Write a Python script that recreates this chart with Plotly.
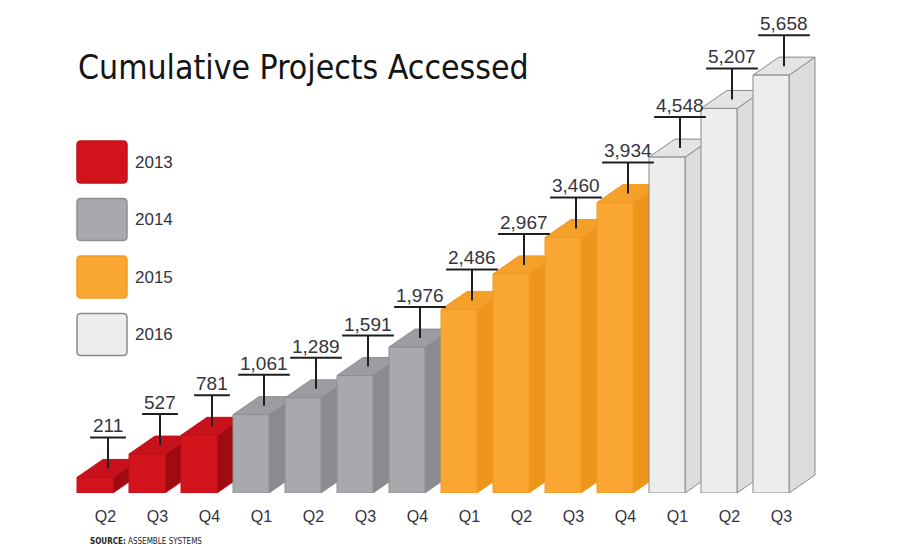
import plotly.graph_objects as go

# ---------------- data ----------------
quarters = ["Q2", "Q3", "Q4", "Q1", "Q2", "Q3", "Q4", "Q1", "Q2", "Q3", "Q4", "Q1", "Q2", "Q3"]
years = [2013, 2013, 2013, 2014, 2014, 2014, 2014, 2015, 2015, 2015, 2015, 2016, 2016, 2016]
values = [211, 527, 781, 1061, 1289, 1591, 1976, 2486, 2967, 3460, 3934, 4548, 5207, 5658]
legend_years = [2013, 2014, 2015, 2016]
title_text = "Cumulative Projects Accessed"
source_text = "<b>SOURCE:</b> ASSEMBLE SYSTEMS"

# ---------------- style ----------------
W, H = 900, 550
ML, MR, MT, MB = 43, 51, 10, 57
XMIN, XMAX = -1.0, 14.5
YMAX = 6540
PX_X = (W - ML - MR) / (XMAX - XMIN)
PX_Y = (H - MT - MB) / YMAX
DX_PX, DY_PX = 26, 18
DXU, DYU = DX_PX / PX_X, DY_PX / PX_Y
BAR_W = 36 / PX_X
STEM = 31

palette = {
    2013: dict(front="#d3141d", top="#c8121b", side="#a00b12", line="#c0101a"),
    2014: dict(front="#a8a9ad", top="#9c9da1", side="#8a8b8f", line="#8e8f93"),
    2015: dict(front="#f9a632", top="#f5a02b", side="#ee961c", line="#f39a22"),
    2016: dict(front="#ededed", top="#e4e4e4", side="#dcdcdc", line="#8a8a8a"),
}
FONT = "Liberation Sans, Arial, sans-serif"
NARROW = "DejaVu Sans Condensed, sans-serif"
TXT = "#34343f"

xs = list(range(len(values)))
fig = go.Figure()

# front faces as bars, one trace per year
for yr in legend_years:
    idx = [i for i in xs if years[i] == yr]
    fig.add_trace(go.Bar(
        x=[xs[i] for i in idx], y=[values[i] for i in idx],
        width=BAR_W, name=str(yr), showlegend=False,
        marker=dict(color=palette[yr]["front"],
                    line=dict(color=palette[yr]["line"], width=1)),
        hoverinfo="x+y",
    ))

shapes = []
annotations = []
# 3D side and top faces (drawn below traces so the next bar's front occludes them)
for i in xs:
    v = values[i]
    c = palette[years[i]]
    xl, xr = xs[i] - BAR_W / 2, xs[i] + BAR_W / 2
    side = (f"M {xr},0 L {xr + DXU},{DYU} L {xr + DXU},{v + DYU} L {xr},{v} Z")
    top = (f"M {xl},{v} L {xl + DXU},{v + DYU} L {xr + DXU},{v + DYU} L {xr},{v} Z")
    shapes.append(dict(type="path", path=side, xref="x", yref="y", layer="below",
                       fillcolor=c["side"], line=dict(color=c["line"], width=1)))
    shapes.append(dict(type="path", path=top, xref="x", yref="y", layer="below",
                       fillcolor=c["top"], line=dict(color=c["line"], width=1)))
    # value label: stem + underline + text
    txt = f"{v:,}"
    half = (sum(5.3 if ch == "," else 10.6 for ch in txt)) / 2 + 2
    shapes.append(dict(type="line", xref="x", yref="y", xsizemode="pixel", ysizemode="pixel",
                       xanchor=xs[i], yanchor=v, x0=DX_PX / 2, x1=DX_PX / 2,
                       y0=DY_PX / 2, y1=DY_PX / 2 + STEM, layer="above",
                       line=dict(color="#1e1e1e", width=2)))
    shapes.append(dict(type="line", xref="x", yref="y", xsizemode="pixel", ysizemode="pixel",
                       xanchor=xs[i], yanchor=v, x0=DX_PX / 2 - half, x1=DX_PX / 2 + half,
                       y0=DY_PX / 2 + STEM, y1=DY_PX / 2 + STEM, layer="above",
                       line=dict(color="#1e1e1e", width=2)))
    annotations.append(dict(x=xs[i], y=v, xref="x", yref="y", text=txt, showarrow=False,
                            xshift=DX_PX / 2, yshift=DY_PX / 2 + STEM - 1, yanchor="bottom",
                            xanchor="center", font=dict(family=FONT, size=19, color=TXT)))


def rrect(x0, y0, x1, y1, r):
    return (f"M {x0 + r},{y0} L {x1 - r},{y0} Q {x1},{y0} {x1},{y0 - r} "
            f"L {x1},{y1 + r} Q {x1},{y1} {x1 - r},{y1} L {x0 + r},{y1} "
            f"Q {x0},{y1} {x0},{y1 + r} L {x0},{y0 - r} Q {x0},{y0} {x0 + r},{y0} Z")


# custom legend (pixel offsets from plot-area top-left)
for k, yr in enumerate(legend_years):
    top_px = 141 + k * 57.5 - MT
    c = palette[yr]
    shapes.append(dict(type="path", xref="paper", yref="paper", xsizemode="pixel",
                       ysizemode="pixel", xanchor=0, yanchor=1,
                       path=rrect(77 - ML, -top_px, 127 - ML, -(top_px + 42), 4),
                       fillcolor=c["front"], line=dict(color=c["line"], width=1.5)))
    annotations.append(dict(x=0, y=1, xref="paper", yref="paper", xanchor="left",
                            yanchor="middle", xshift=133 - ML, yshift=-(top_px + 21),
                            text=str(yr), showarrow=False,
                            font=dict(family=FONT, size=17, color=TXT)))

annotations.append(dict(x=0, y=1, xref="paper", yref="paper", xanchor="left", yanchor="middle",
                        xshift=76 - ML, yshift=-(67 - MT), text=title_text, showarrow=False,
                        font=dict(family=NARROW, size=33.5, color="#141414")))
annotations.append(dict(x=0, y=0, xref="paper", yref="paper", xanchor="left", yanchor="middle",
                        xshift=88 - ML, yshift=-48, text=source_text, showarrow=False,
                        font=dict(family=NARROW, size=8, color="#222222")))

fig.update_layout(
    width=W, height=H, margin=dict(l=ML, r=MR, t=MT, b=MB),
    paper_bgcolor="white", plot_bgcolor="white",
    barmode="overlay", showlegend=False,
    shapes=shapes, annotations=annotations,
    xaxis=dict(range=[XMIN, XMAX], tickmode="array",
               tickvals=[x + 0.2 for x in xs], ticktext=quarters,
               showgrid=False, zeroline=False, showline=False, ticks="",
               ticklabelstandoff=12,
               tickfont=dict(family=FONT, size=16, color=TXT), fixedrange=True),
    yaxis=dict(range=[0, YMAX], visible=False, fixedrange=True),
)

fig.write_html("out.html")
